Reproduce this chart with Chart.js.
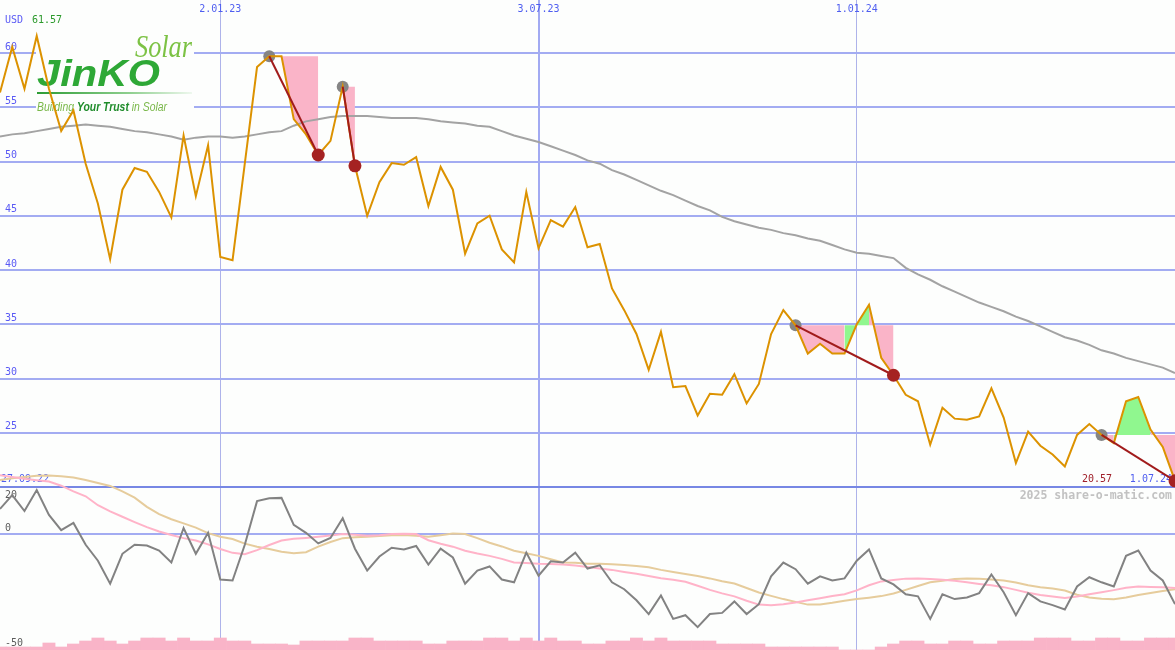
<!DOCTYPE html>
<html><head><meta charset="utf-8">
<script src="https://cdn.jsdelivr.net/npm/chart.js@4.4.1/dist/chart.umd.min.js"></script>
<style>html,body{margin:0;padding:0;background:#fdfefd;overflow:hidden}canvas{display:block}</style>
</head><body>
<canvas id="c" width="1175" height="650"></canvas>
<script>
// ---------- data ----------
const currency = 'USD';
const dateTickPos = [18, 44, 70];                 // week index of tick dates
const dateTickLabels = ['2.01.23', '3.07.23', '1.01.24'];
const lastDateLabel = '1.07.24';
const indStartLabel = '27.09.22';
const priceTicks = [20, 25, 30, 35, 40, 45, 50, 55, 60];
const indTicks = [20, 0, -50];
const credit = '2025 share-o-matic.com';

const price = [56.35,60.55,56.7,61.57,56.7,52.8,54.7,49.8,46.1,41.0,
  47.4,49.4,49.05,47.2,44.85,52.4,46.8,51.5,41.2,40.9,
  49.8,58.7,59.7,59.7,53.9,52.5,50.6,51.9,56.9,49.6,
  45.0,48.1,49.85,49.7,50.4,45.9,49.5,47.4,41.5,44.3,
  45.0,41.9,40.7,47.2,42.0,44.6,44.0,45.8,42.1,42.4,
  38.3,36.3,34.1,30.8,34.3,29.2,29.3,26.6,28.6,28.5,
  30.4,27.7,29.5,34.1,36.3,34.9,32.3,33.2,32.3,32.3,
  35.0,36.8,31.9,30.3,28.5,27.9,23.9,27.3,26.3,26.2,
  26.5,29.1,26.4,22.2,25.1,23.8,23.0,21.9,24.8,25.8,
  24.8,24.05,27.9,28.3,25.3,23.7,20.57];

const movAvg = [52.3,52.5,52.6,52.8,53.0,53.2,53.3,53.4,53.3,53.2,
  53.0,52.8,52.7,52.5,52.3,52.0,52.2,52.3,52.3,52.2,
  52.3,52.5,52.7,52.8,53.3,53.7,53.9,54.1,54.2,54.2,
  54.2,54.1,54.0,54.0,54.0,53.9,53.7,53.6,53.5,53.3,
  53.2,52.8,52.4,52.1,51.8,51.4,51.0,50.6,50.1,49.8,
  49.2,48.8,48.3,47.8,47.3,46.9,46.4,45.9,45.5,44.9,
  44.5,44.2,43.9,43.7,43.4,43.2,42.9,42.7,42.3,41.9,
  41.6,41.5,41.3,41.1,40.2,39.6,39.1,38.5,38.0,37.5,
  37.0,36.6,36.2,35.7,35.3,34.8,34.3,33.8,33.5,33.1,
  32.6,32.3,31.9,31.6,31.3,31.0,30.5];

const momentum = [10.9,16.9,10.0,19.1,8.3,1.7,4.8,-4.7,-11.6,-21.6,
  -8.6,-4.7,-5.0,-7.2,-12.4,2.6,-8.6,0.5,-19.8,-20.2,
  -4.7,14.3,15.5,15.7,4.0,0.5,-4.1,-1.7,6.9,-6.4,
  -15.9,-9.8,-6.0,-6.7,-5.2,-13.3,-6.4,-10.2,-21.6,-15.9,
  -14.1,-19.8,-21.0,-8.1,-18.1,-11.9,-12.4,-8.1,-15.0,-13.6,
  -21.0,-24.0,-28.8,-34.8,-26.7,-36.9,-35.3,-40.5,-34.8,-34.3,
  -29.3,-34.8,-30.5,-18.4,-12.4,-15.3,-21.6,-18.4,-20.2,-19.3,
  -11.6,-6.7,-19.3,-21.9,-26.2,-27.1,-36.9,-26.2,-28.3,-27.6,
  -25.7,-17.6,-25.3,-35.3,-25.7,-29.3,-30.9,-32.8,-22.8,-18.8,
  -21.0,-22.8,-9.5,-7.2,-15.9,-20.2,-30.5];

const signalPink = [25.5,24.8,24.0,23.4,22.8,21.0,18.5,16.4,12.5,9.8,
  7.5,5.2,3.0,1.1,-0.4,-1.8,-2.8,-4.5,-6.5,-8.2,
  -8.8,-7.0,-4.8,-2.8,-2.1,-1.7,-1.2,-0.6,0.0,-0.3,
  -0.8,-0.5,0.0,0.1,0.0,-2.7,-4.2,-5.5,-7.3,-8.5,
  -9.5,-10.8,-12.4,-12.6,-12.9,-13.0,-13.3,-13.7,-14.3,-15.0,
  -15.6,-16.5,-17.3,-18.3,-19.2,-19.9,-20.8,-22.5,-24.3,-25.8,
  -27.1,-29.0,-30.7,-31.0,-30.5,-29.8,-28.8,-27.9,-27.0,-26.2,
  -24.5,-22.3,-20.6,-20.0,-19.4,-19.3,-19.6,-19.9,-20.3,-21.0,
  -21.7,-22.3,-23.1,-24.3,-25.5,-26.5,-27.2,-27.8,-27.2,-26.2,
  -25.3,-24.4,-23.4,-22.8,-23.0,-23.2,-23.5];

const signalTan = [23.5,24.2,24.8,25.3,25.4,25.1,24.6,23.5,22.2,20.9,
  18.5,15.8,11.8,8.6,6.4,4.6,2.8,0.4,-1.2,-2.2,
  -4.2,-5.5,-6.5,-7.7,-8.4,-7.9,-5.5,-3.5,-1.8,-1.4,
  -1.2,-0.9,-0.5,-0.4,-0.8,-1.2,-0.5,0.2,0.0,-1.8,
  -3.8,-5.4,-7.3,-8.4,-9.5,-11.0,-12.4,-12.5,-12.9,-12.9,
  -13.2,-13.5,-13.9,-14.5,-15.6,-16.5,-17.4,-18.3,-19.3,-20.5,
  -21.5,-23.5,-25.4,-26.9,-28.3,-29.5,-30.7,-30.6,-29.9,-29.0,
  -28.3,-27.7,-27.0,-25.9,-24.3,-22.6,-21.0,-20.3,-19.6,-19.3,
  -19.4,-19.8,-20.2,-21.1,-22.3,-23.1,-23.7,-24.6,-26.4,-27.6,
  -28.1,-28.4,-27.6,-26.5,-25.6,-24.8,-24.0];

// weekly volume, thousand shares
const volume = [300,300,300,300,700,300,600,900,1200,900,
  600,900,1200,1200,900,1200,900,900,1200,900,
  900,600,600,600,500,900,900,900,900,1200,
  1200,900,900,900,900,600,600,900,900,900,
  1200,1200,900,1200,900,1200,900,900,600,600,
  900,900,1200,900,1200,900,900,900,900,600,
  600,600,600,300,300,300,300,300,300,0,
  0,0,300,600,900,900,600,600,900,900,
  600,600,900,900,900,1200,1200,1200,900,900,
  1200,1200,900,900,1200,1200,1200];

const signalStart = [22, 28, 65, 90];
const signalEnd   = [26, 29, 73, 96];

// ---------- styles ----------
const BG = '#fdfefd';
const BLUE = '#4f5ef0';
const MONO = 'DejaVu Sans Mono';
const PINK = '#fab4c8', GREEN = '#90f78f';

const pts = arr => arr.map((v, i) => ({x: i, y: v}));

const datasets = [];
datasets.push({type: 'bar', label: 'vol', data: pts(volume), yAxisID: 'yv', order: 100,
  backgroundColor: '#f9b4c8', borderWidth: 0, barPercentage: 1, categoryPercentage: 1, grouped: false});
datasets.push({label: 'tan', data: pts(signalTan), yAxisID: 'y2', order: 92, borderColor: '#e6cc9c', borderWidth: 2, pointRadius: 0, fill: false});
datasets.push({label: 'pink', data: pts(signalPink), yAxisID: 'y2', order: 91, borderColor: '#ffb3c8', borderWidth: 2, pointRadius: 0, fill: false});
datasets.push({label: 'mom', data: pts(momentum), yAxisID: 'y2', order: 90, borderColor: '#828282', borderWidth: 2, pointRadius: 0, fill: false});
signalStart.forEach((s, k) => {
  const e = signalEnd[k];
  const level = price[s];
  const d = [];
  for (let i = s; i <= e; i++) d.push({x: i, y: price[i]});
  datasets.push({label: 'area' + k, data: d, yAxisID: 'y', order: 80,
    borderColor: 'rgba(0,0,0,0)', borderWidth: 0, pointRadius: 0,
    backgroundColor: PINK, fill: {value: level},
    segment: {backgroundColor: ctx => ctx.p1.parsed.y >= level ? GREEN : PINK}});
});
datasets.push({label: 'ma', data: pts(movAvg), yAxisID: 'y', order: 70, borderColor: '#a3a3a3', borderWidth: 2, pointRadius: 0, fill: false});
datasets.push({label: 'startDots', data: signalStart.map(i => ({x: i, y: price[i]})), yAxisID: 'y', order: 60,
  showLine: false, pointRadius: 6, pointBackgroundColor: '#858585', pointBorderWidth: 0, pointHoverRadius: 6});
datasets.push({label: 'price', data: pts(price), yAxisID: 'y', order: 50, borderColor: '#dc9200', borderWidth: 2, pointRadius: 0, fill: false});
signalStart.forEach((s, k) => {
  const e = signalEnd[k];
  datasets.push({label: 'trend' + k, data: [{x: s, y: price[s]}, {x: e, y: price[e]}], yAxisID: 'y', order: 40,
    borderColor: '#a11b1b', borderWidth: 2, pointRadius: 0, fill: false});
});
datasets.push({label: 'endDots', data: signalEnd.map(i => ({x: i, y: price[i]})), yAxisID: 'y', order: 30,
  showLine: false, pointRadius: 6.5, pointBackgroundColor: '#a52222', pointBorderWidth: 0, pointHoverRadius: 6.5});

function fitText(ctx, text, x, y, width, font, color) {
  ctx.font = font;
  const w = ctx.measureText(text).width;
  ctx.save(); ctx.translate(x, y); ctx.scale(width / w, 1);
  ctx.fillStyle = color; ctx.fillText(text, 0, 0); ctx.restore();
}

function drawLogo(ctx) {
  ctx.save();
  ctx.fillStyle = BG;
  ctx.fillRect(36, 30, 158, 86);
  ctx.textBaseline = 'alphabetic'; ctx.textAlign = 'left';
  fitText(ctx, 'Solar', 135, 57, 57, 'italic 31px "Liberation Serif"', '#7cc244');
  fitText(ctx, 'JinKO', 37, 86, 123, 'italic bold 36px "Liberation Sans"', '#2ea836');
  const g = ctx.createLinearGradient(37, 0, 192, 0);
  g.addColorStop(0, '#2c9c34'); g.addColorStop(0.6, '#8fcf8f'); g.addColorStop(1, '#eef8ee');
  ctx.fillStyle = g; ctx.fillRect(37, 92, 155, 2);
  const parts = [['Building ', 'italic 12px "Liberation Sans"', '#7ab84a'],
                 ['Your Trust', 'italic bold 12px "Liberation Sans"', '#1f8c2b'],
                 [' in Solar', 'italic 12px "Liberation Sans"', '#7ab84a']];
  let total = 0;
  parts.forEach(p => { ctx.font = p[1]; p.push(ctx.measureText(p[0]).width); total += p[3]; });
  const sc = 130 / total;
  ctx.translate(37, 111); ctx.scale(sc, 1);
  let cx = 0;
  parts.forEach(p => { ctx.font = p[1]; ctx.fillStyle = p[2]; ctx.fillText(p[0], cx, 0); cx += p[3]; });
  ctx.restore();
}

const deco = {
  id: 'deco',
  beforeDraw(chart) {
    const c = chart.ctx; c.save(); c.fillStyle = BG; c.fillRect(0, 0, chart.width, chart.height); c.restore();
  },
  beforeDatasetsDraw(chart) {
    const c = chart.ctx, sx = chart.scales.x, sy = chart.scales.y, s2 = chart.scales.y2;
    drawLogo(c);
    c.save();
    c.font = '10px "' + MONO + '"'; c.textBaseline = 'middle'; c.textAlign = 'left';
    c.fillStyle = '#5c5c5c';
    indTicks.forEach(v => c.fillText(String(v), 5, s2.getPixelForValue(v) + (v > 0 ? 7 : -6)));
    const base = sy.getPixelForValue(priceTicks[0]);
    c.fillStyle = BLUE; c.fillText(indStartLabel, 1, base - 8);
    const n = price.length - 1;
    const lx = sx.getPixelForValue(n);
    c.textAlign = 'right';
    c.fillStyle = '#a0202a'; c.fillText(price[n].toFixed(2), lx - 63, base - 8);
    c.fillStyle = BLUE; c.fillText(lastDateLabel, lx - 3, base - 8);
    c.restore();
  },
  afterDatasetsDraw(chart) {
    const c = chart.ctx, sy = chart.scales.y;
    c.save();
    c.font = '10px "' + MONO + '"'; c.textBaseline = 'middle'; c.textAlign = 'left';
    c.fillStyle = '#5a5af5'; c.fillText(currency, 5, 20);
    c.fillStyle = '#2c9a2c'; c.fillText(Math.max(...price).toFixed(2), 32, 20);
    c.font = 'bold 11.5px "' + MONO + '"'; c.textAlign = 'right'; c.fillStyle = '#c2c2c2';
    c.fillText(credit, 1172, sy.getPixelForValue(priceTicks[0]) + 9);
    c.restore();
  }
};

const noPad = s => { s.paddingTop = 0; s.paddingBottom = 0; s.paddingLeft = 0; s.paddingRight = 0; };

new Chart(document.getElementById('c'), {
  type: 'line',
  data: {datasets},
  plugins: [deco],
  options: {
    responsive: false, animation: false, devicePixelRatio: 1, events: [],
    layout: {padding: 0, autoPadding: false},
    plugins: {legend: {display: false}, tooltip: {enabled: false}},
    scales: {
      x: {type: 'linear', position: 'top', min: 0, max: 96, offset: false,
        afterFit: s => { s.height = 0; noPad(s); },
        afterBuildTicks: s => { s.ticks = dateTickPos.map(v => ({value: v})); },
        ticks: {mirror: true, padding: 3, autoSkip: false, maxRotation: 0, color: BLUE,
          font: {family: MONO, size: 10}, callback: (v, i) => dateTickLabels[i]},
        grid: {offset: false, drawTicks: false, color: ctx => ctx.index === 1 ? '#a2aaf2' : '#aeb3ea',
          lineWidth: ctx => ctx.index === 1 ? 2 : 1},
        border: {display: false}},
      y: {type: 'linear', position: 'left', min: 4.977, max: 64.885,
        afterFit: s => { s.width = 0; noPad(s); },
        afterBuildTicks: s => { s.ticks = priceTicks.map(v => ({value: v})); },
        ticks: {mirror: true, padding: 5, labelOffset: -6, autoSkip: false, color: '#5a5af5',
          font: {family: MONO, size: 10}, callback: v => v === priceTicks[0] ? '' : String(v)},
        grid: {drawTicks: false, lineWidth: 2,
          color: ctx => ctx.tick && ctx.tick.value === priceTicks[0] ? '#7787e4' : '#a3acf2'},
        border: {display: false}},
      y2: {type: 'linear', position: 'left', min: -50.43, max: 232.17,
        afterFit: s => { s.width = 0; noPad(s); },
        afterBuildTicks: s => { s.ticks = [{value: 0}]; },
        ticks: {display: false},
        grid: {drawTicks: false, lineWidth: 2, color: '#a3acf2'},
        border: {display: false}},
      yv: {type: 'linear', display: false, min: 0, max: 65000}
    }
  }
});
</script>
</body></html>
